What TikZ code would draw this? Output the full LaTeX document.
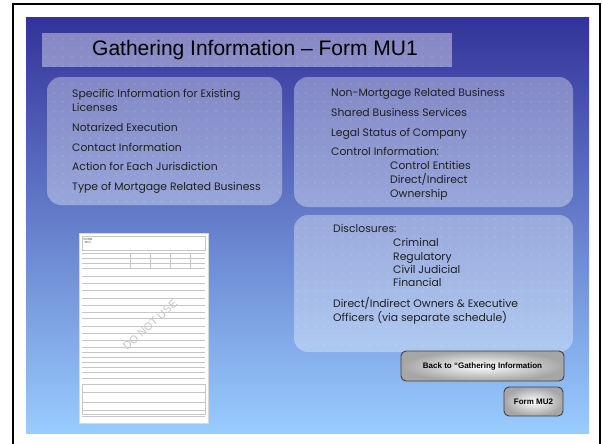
\documentclass[tikz,border=0pt]{standalone}
\usepackage{fontspec}
\setmainfont{Poppins}
\newfontfamily\arialfont{Liberation Sans}
\usetikzlibrary{patterns.meta}

\definecolor{slidetop}{RGB}{51,51,153}
\definecolor{slidebottom}{RGB}{153,204,255}

\tikzset{
  infobox/.style={rounded corners=14pt, fill=white, fill opacity=0.35},
  dotfill/.style={pattern={Dots[distance=9pt, radius=0.45pt]}, pattern color=white},
  item/.style={anchor=base west, inner sep=0pt, text=black!88, font=\fontsize{10.8}{13.5}\selectfont},
  btn/.style={draw=black!75, line width=0.9pt, rounded corners=5pt, inner color=white,
    outer color=black!35, font=\arialfont\bfseries\fontsize{8}{10}\selectfont},
  formline/.style={gray!45, line width=0.4pt}
}

\begin{document}
\begin{tikzpicture}[x=1pt, y=-1pt]

\useasboundingbox (0,0) rectangle (602,444);
\fill[white] (0,0) rectangle (602,444);
\draw[line width=2pt] (13,444) -- (13,4) -- (600,4) -- (600,444);

% slide background
\shade[top color=slidetop, bottom color=slidebottom] (26,18) rectangle (589,433);

% title
\fill[white, opacity=0.4] (42,33) rectangle (452,67);
\fill[dotfill] (42,33) rectangle (452,67);
\node[font=\arialfont\fontsize{21}{24}\selectfont] (title) at (255,50) {Gathering Information \textendash{} Form MU1};

% left box
\fill[infobox] (47,77) rectangle (282,205);
\fill[dotfill, rounded corners=14pt] (47,77) rectangle (282,205);
\node[item] (specific) at (72,97.5) {Specific Information for Existing};
\node[item] (licenses) at (72,111.5) {Licenses};
\node[item] (notarized) at (72,131.5) {Notarized Execution};
\node[item] (contact) at (72,151.5) {Contact Information};
\node[item] (action) at (72,170.5) {Action for Each Jurisdiction};
\node[item] (type) at (72,190.5) {Type of Mortgage Related Business};

% right top box
\fill[infobox] (294,77) rectangle (573,207);
\fill[dotfill, rounded corners=14pt] (294,77) rectangle (573,207);
\node[item] (nonmort) at (331,96.5) {Non-Mortgage Related Business};
\node[item] (shared) at (331,116.5) {Shared Business Services};
\node[item] (legal) at (331,136.5) {Legal Status of Company};
\node[item] (control) at (331,155.5) {Control Information:};
\node[item] (entities) at (390,169.5) {Control Entities};
\node[item] (direct) at (390,183.5) {Direct/Indirect};
\node[item] (owner) at (390,197.5) {Ownership};

% right bottom box
\fill[infobox] (294,215) rectangle (573,352);
\fill[dotfill, rounded corners=14pt] (294,215) rectangle (573,352);
\node[item] (disclose) at (333,232.5) {Disclosures:};
\node[item] (criminal) at (393,246.5) {Criminal};
\node[item] (regulatory) at (393,260.5) {Regulatory};
\node[item] (civil) at (393,273.5) {Civil Judicial};
\node[item] (financial) at (393,286.5) {Financial};
\node[item] (owners) at (333,307.5) {Direct/Indirect Owners \& Executive};
\node[item] (officers) at (333,321.5) {Officers (via separate schedule)};

% form picture
\draw[fill=white, draw=gray!30] (79,233) rectangle (208,423);
\node[font=\arialfont\bfseries\fontsize{3}{3.5}\selectfont, align=center, text=gray] (formname) at (88,241) {FORM\\MU1};
\draw[formline] (82,236) rectangle (205,250);
\foreach \y in {253,258,263,268,276,283,290,298,305,312,318,326,333,340,347,352,357,362,367,372,378,392,402,410,416}
  \draw[formline] (82,\y) -- (205,\y);
\foreach \x in {130,150,170,190}
  \draw[formline] (\x,253) -- (\x,268);
\draw[formline] (82,384) rectangle (205,414);
\node[rotate=42, text=gray!45, font=\arialfont\fontsize{11}{12}\selectfont] (donot) at (150,325) {DO NOT USE};

% buttons
\node[btn, minimum width=163pt, minimum height=30pt] (back) at (482.5,366) {Back to “Gathering Information};
\node[btn, minimum width=59pt, minimum height=29pt] (mu2) at (533.5,401.5) {Form MU2};

\end{tikzpicture}
\end{document}
